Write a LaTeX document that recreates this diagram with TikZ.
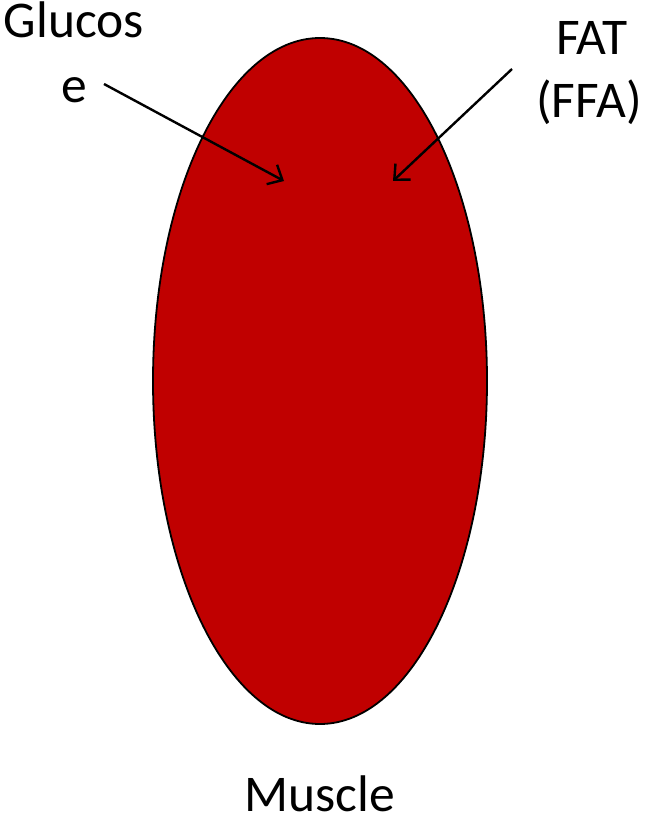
\documentclass[tikz,border=0pt]{standalone}
\usepackage{fontspec}
\setmainfont{Carlito}
\usetikzlibrary{shapes.geometric,arrows.meta}
\definecolor{musclered}{HTML}{C00000}
\tikzset{
  lbl/.style={anchor=base, inner sep=0pt, font=\fontsize{51.5pt}{62pt}\selectfont},
  inarrow/.style={line width=2.4pt, -{Straight Barb[length=12pt,width=22pt,line width=2.4pt]}},
}
\begin{document}
\begin{tikzpicture}[x=1pt,y=-1pt]
\useasboundingbox (0,0) rectangle (648,818);
\node[ellipse, draw=black, line width=1.8pt, fill=musclered, inner sep=0pt,
      minimum width=334pt, minimum height=686pt] (muscle) at (320,381) {};
\node[lbl] (glucA) at (74,38) {Glucos};
\node[lbl] (glucB) at (74,103) {e};
\node[lbl] (fatA) at (592,55) {FAT};
\node[lbl] (fatB) at (589,118) {(FFA)};
\node[lbl, text depth=0pt] (muscleLabel) at (320,811) {Muscle};
\coordinate (gStart) at (104,84);
\coordinate (gEnd) at (284,181);
\coordinate (fStart) at (512,69);
\coordinate (fEnd) at (393,181);
\draw[inarrow] (gStart) -- (gEnd);
\draw[inarrow] (fStart) -- (fEnd);
\end{tikzpicture}
\end{document}
